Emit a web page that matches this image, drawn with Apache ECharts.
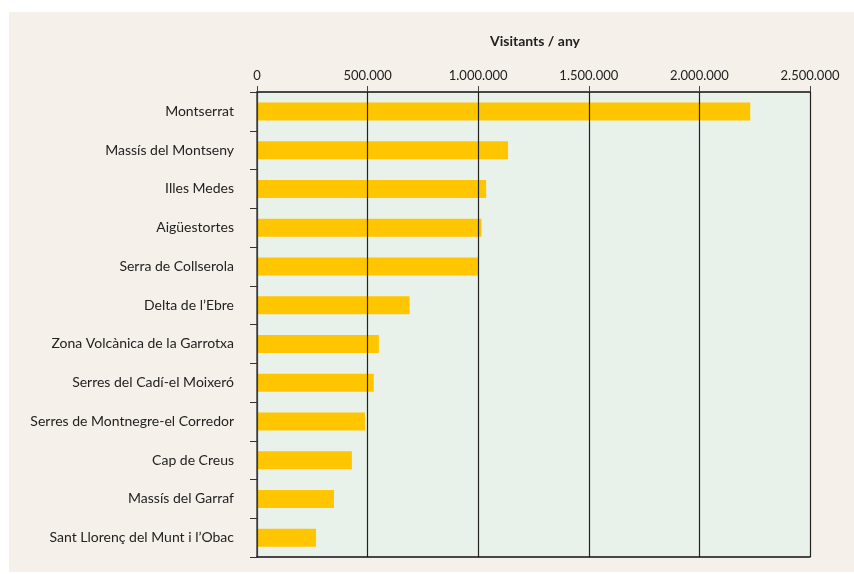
<!DOCTYPE html>
<html>
<head>
<meta charset="utf-8">
<script src="https://cdn.jsdelivr.net/npm/echarts@6/dist/echarts.min.js"></script>
<style>
  body { margin: 0; background: #fff; }
  #myChart { position: absolute; left: 9px; top: 12px; width: 845px; height: 560px; }
</style>
</head>
<body>
<div id="myChart"></div>
<script>
// espais naturals i visitants per any
const parcs = [
  'Montserrat', 'Massís del Montseny', 'Illes Medes', 'Aigüestortes',
  'Serra de Collserola', 'Delta de l’Ebre', 'Zona Volcànica de la Garrotxa',
  'Serres del Cadí-el Moixeró', 'Serres de Montnegre-el Corredor',
  'Cap de Creus', 'Massís del Garraf', 'Sant Llorenç del Munt i l’Obac'
];
const visitants = [2230000, 1135000, 1036000, 1015000, 1000000, 690000,
  551000, 528000, 488000, 429000, 348000, 267000];
const ticksX = [0, 500000, 1000000, 1500000, 2000000, 2500000];

const font = 'Lato';
const myChart = echarts.init(document.getElementById('myChart'));

function punts(v) {
  return String(v).replace(/\B(?=(\d{3})+(?!\d))/g, '.');
}

myChart.setOption({
  backgroundColor: '#f5f0ea',
  animation: false,
  title: {
    text: 'Visitants / any',
    left: 521,
    top: 17,
    textAlign: 'center',
    textStyle: { fontFamily: font, fontSize: 14, fontWeight: 'bold', color: '#222' }
  },
  grid: {
    left: 248, top: 80, right: 44, bottom: 15,
    show: true, backgroundColor: '#e9f2ea', borderWidth: 0
  },
  xAxis: [{
    type: 'value',
    position: 'top',
    min: ticksX[0],
    max: ticksX[ticksX.length - 1],
    interval: 500000,
    z: 3,
    axisLine: { show: true, lineStyle: { color: '#111', width: 1.5 } },
    axisTick: { show: true, length: 6, lineStyle: { color: '#444' } },
    axisLabel: {
      margin: 10,
      fontFamily: font, fontSize: 13, color: '#222',
      formatter: v => punts(v)
    },
    splitLine: { show: true, lineStyle: { color: '#222', width: 1.2 } }
  }, {
    type: 'value',
    position: 'bottom',
    min: ticksX[0],
    max: ticksX[ticksX.length - 1],
    z: 3,
    axisLine: { show: true, lineStyle: { color: '#111', width: 1.5 } },
    axisTick: { show: false },
    axisLabel: { show: false },
    splitLine: { show: false }
  }],
  yAxis: {
    type: 'category',
    data: parcs,
    inverse: true,
    z: 3,
    axisLine: { show: true, lineStyle: { color: '#444', width: 1.5 } },
    axisTick: { show: true, length: 7, lineStyle: { color: '#333' } },
    axisLabel: { margin: 23, fontFamily: font, fontSize: 14, color: '#222' }
  },
  series: [{
    type: 'bar',
    data: visitants,
    xAxisIndex: 0,
    barWidth: 18,
    itemStyle: { color: '#ffc600' }
  }]
});
</script>
</body>
</html>
